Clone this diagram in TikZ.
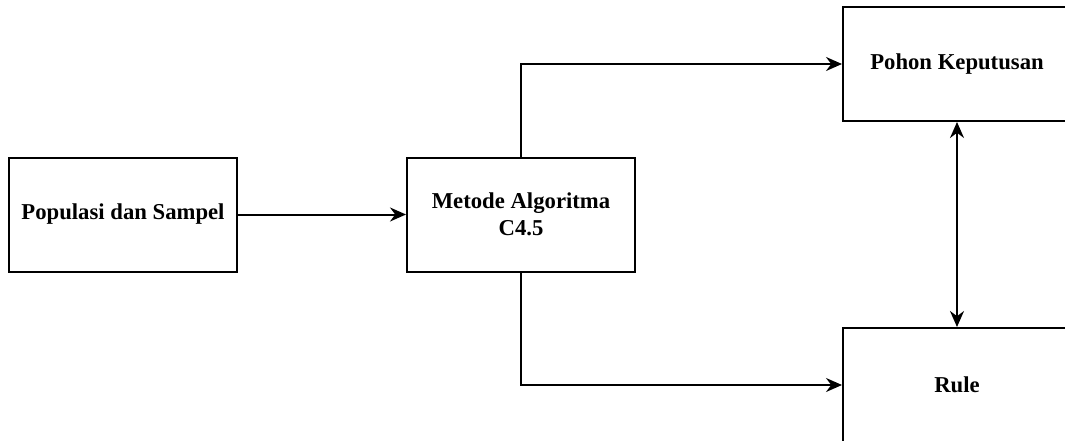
\documentclass[tikz,border=0pt]{standalone}
\usepackage{fontspec}
\setmainfont{Liberation Serif}
\usetikzlibrary{arrows.meta}
\begin{document}
\begin{tikzpicture}[x=1pt,y=-1pt,
  box/.style={draw,line width=2pt,minimum width=228pt,minimum height=114pt,inner sep=0pt,align=center,font=\fontsize{22.7}{27}\selectfont\bfseries},
  conn/.style={line width=2pt,-{Stealth[length=16pt,width=14pt]}},
  biconn/.style={line width=2pt,{Stealth[length=16pt,width=14pt]}-{Stealth[length=16pt,width=14pt]}}]
\useasboundingbox (0,0) rectangle (1065,441);
\clip (0,0) rectangle (1065,441);
\node[box] (pop) at (123,214.5) {Populasi dan Sampel};
\node[box] (met) at (521,214.5) {Metode Algoritma\\C4.5};
\node[box] (poh) at (957,64) {Pohon Keputusan};
\node[box] (rul) at (957,385) {Rule};
\draw[conn] (pop) -- (met);
\draw[conn] (met.north) |- (poh.west);
\draw[conn] (met.south) |- (rul.west);
\draw[biconn] (poh) -- (rul);
\end{tikzpicture}
\end{document}
